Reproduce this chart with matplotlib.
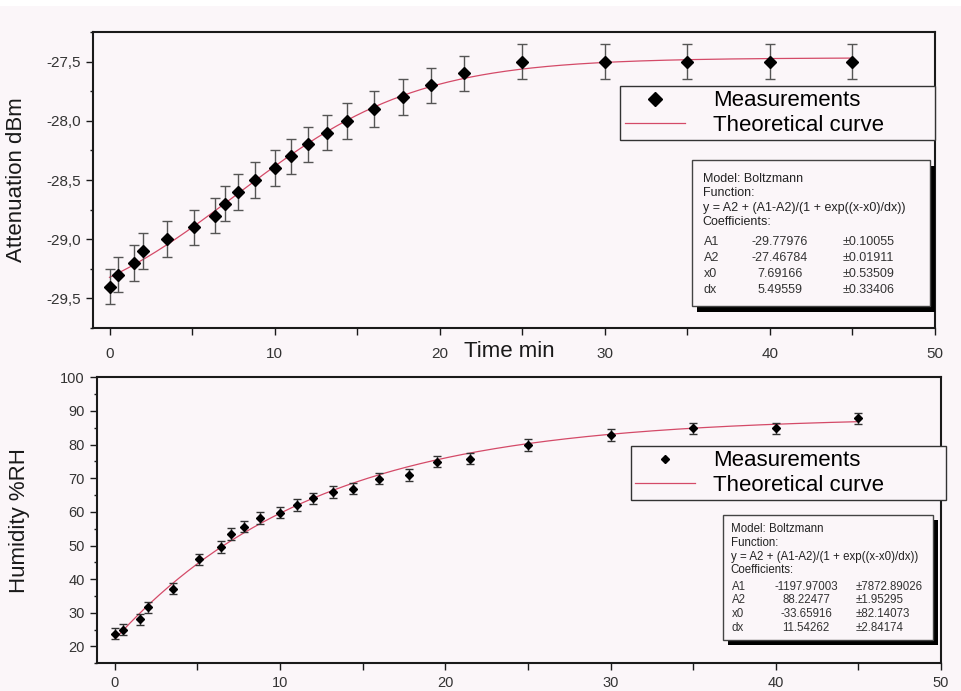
import numpy as np
import matplotlib
matplotlib.use("Agg")
import matplotlib.pyplot as plt
from matplotlib.patches import Rectangle
from matplotlib.lines import Line2D
from matplotlib.ticker import MultipleLocator, FuncFormatter

plt.rcParams['font.family'] = ['Liberation Sans', 'DejaVu Sans']

# measurement times (min), same for both series
time_min = [0, 0.5, 1.5, 2, 3.5, 5.1, 6.4, 7, 7.8, 8.8, 10, 11, 12, 13.2,
            14.4, 16, 17.8, 19.5, 21.5, 25, 30, 35, 40, 45]

# attenuation (dBm)
attenuation = [-29.4, -29.3, -29.2, -29.1, -29.0, -28.9, -28.8, -28.7, -28.6,
               -28.5, -28.4, -28.3, -28.2, -28.1, -28.0, -27.9, -27.8, -27.7,
               -27.6, -27.5, -27.5, -27.5, -27.5, -27.5]
att_err = 0.15

# humidity (%RH)
humidity = [23.8, 25.0, 28.1, 31.6, 37.2, 45.9, 49.5, 53.4, 55.6, 58.2, 59.8,
            62.0, 64.0, 65.9, 66.9, 69.9, 70.9, 74.9, 75.8, 79.9, 82.8, 84.8,
            84.8, 87.8]
hum_err = 1.7

# Boltzmann fit coefficients as printed in the boxes
att_coef = {'A1': -29.77976, 'A2': -27.46784, 'x0': 7.69166, 'dx': 5.49559}
att_coef_err = {'A1': 0.10055, 'A2': 0.01911, 'x0': 0.53509, 'dx': 0.33406}
hum_coef = {'A1': -1197.97003, 'A2': 88.22477, 'x0': -33.65916, 'dx': 11.54262}
hum_coef_err = {'A1': 7872.89026, 'A2': 1.95295, 'x0': 82.14073, 'dx': 2.84174}

W, H = 962, 691
bg = '#fbf6f9'
curve_color = '#d44a68'
ink = '#1a1a1a'


def boltzmann(x, c):
    return c['A2'] + (c['A1'] - c['A2']) / (1 + np.exp((x - c['x0']) / c['dx']))


def px_rect(x0, y0, x1, y1):
    # image pixels (top-left origin) -> figure fraction rect
    return [x0 / W, 1 - y1 / H, (x1 - x0) / W, (y1 - y0) / H]


def style_axes(ax, pad_x):
    for s in ax.spines.values():
        s.set_linewidth(1.5)
        s.set_color(ink)
    ax.tick_params(which='both', direction='out', colors=ink, labelcolor='#333333')
    ax.tick_params(which='major', length=5, width=1)
    ax.tick_params(axis='y', which='minor', length=2.5, width=1)
    ax.tick_params(axis='x', which='minor', length=5, width=1)
    ax.tick_params(axis='x', pad=pad_x)
    ax.tick_params(axis='y', pad=3.5)
    ax.set_facecolor(bg)


def fit_box(fig, box, shadow, left, rows, tab_rows, cols, coef, coef_err, fs):
    sx, sy = shadow
    sh = px_rect(box[0] + sx, box[1] + sy, box[2] + sx, box[3] + sy)
    fig.add_artist(Rectangle((sh[0], sh[1]), sh[2], sh[3], transform=fig.transFigure,
                             facecolor='black', edgecolor='none', zorder=5))
    r = px_rect(*box)
    fig.add_artist(Rectangle((r[0], r[1]), r[2], r[3], transform=fig.transFigure,
                             facecolor=bg, edgecolor='#444444', lw=1, zorder=6))
    header = ['Model: Boltzmann', 'Function:',
              'y = A2 + (A1-A2)/(1 + exp((x-x0)/dx))', 'Coefficients:']
    for txt, y in zip(header, rows):
        fig.text(left / W, 1 - y / H, txt, fontsize=fs, color='#222222',
                 va='center', ha='left', zorder=7)
    for name, y in zip(['A1', 'A2', 'x0', 'dx'], tab_rows):
        fig.text(cols[0] / W, 1 - y / H, name, fontsize=fs, color='#333333',
                 va='center', ha='left', zorder=7)
        fig.text(cols[1] / W, 1 - y / H, f"{coef[name]:.5f}", fontsize=fs,
                 color='#333333', va='center', ha='center', zorder=7)
        fig.text(cols[2] / W, 1 - y / H, f"\u00b1{coef_err[name]:.5f}", fontsize=fs,
                 color='#333333', va='center', ha='left', zorder=7)


fig = plt.figure(figsize=(W / 100, H / 100), dpi=100, facecolor=bg)

# white strip at the very top (page margin)
fig.add_artist(Rectangle((0, 1 - 6 / H), 1, 6 / H, transform=fig.transFigure,
                         facecolor='white', edgecolor='none'))

xfit = np.linspace(0, 45, 400)

# ---------------- top panel: attenuation ----------------
ax1 = fig.add_axes(px_rect(93, 32, 935, 328))
style_axes(ax1, 8.5)
ax1.plot(xfit, boltzmann(xfit, att_coef), color=curve_color, lw=0.9, zorder=2)
ax1.errorbar(time_min, attenuation, yerr=att_err, fmt='none', ecolor='#555555',
             elinewidth=1, capsize=3.5, capthick=1, zorder=3)
ax1.plot(time_min, attenuation, 'D', color='black', ms=6.3, zorder=4)
ax1.set_xlim(-1, 50)
ax1.set_ylim(-29.75, -27.25)
ax1.xaxis.set_major_locator(MultipleLocator(10))
ax1.xaxis.set_minor_locator(MultipleLocator(5))
ax1.yaxis.set_major_locator(MultipleLocator(0.5))
ax1.yaxis.set_minor_locator(MultipleLocator(0.25))
ax1.yaxis.set_major_formatter(FuncFormatter(lambda v, p: f"{v:.1f}".replace('.', ',')))
ax1.tick_params(axis='both', labelsize=11)
ax1.set_ylabel('Attenuation dBm', fontsize=16, color=ink)
ax1.yaxis.set_label_coords(-0.078, 0.5)
ax1.set_xlabel('Time min', fontsize=16, color=ink)
ax1.xaxis.set_label_coords(0.495, -0.045)

h1 = [Line2D([], [], ls='none', marker='D', color='black', ms=7),
      Line2D([], [], color=curve_color, lw=0.9)]
leg1 = ax1.legend(h1, ['Measurements', 'Theoretical curve'], loc='upper left',
                  bbox_to_anchor=(0.626, 0.601, 0.374, 0.2166), mode='expand',
                  borderaxespad=0, fontsize=16, handlelength=2.7, handletextpad=1.3,
                  labelspacing=0.15, borderpad=0.2, fancybox=False, framealpha=1,
                  edgecolor='#333333', facecolor=bg)
leg1.get_frame().set_linewidth(1)

fit_box(fig, (691.7, 160, 930, 306), (5, 6), 702.7,
        [178.7, 192.7, 207.7, 221.7], [242.3, 258.3, 274.3, 290],
        (704, 780, 843), att_coef, att_coef_err, 9)

# ---------------- bottom panel: humidity ----------------
ax2 = fig.add_axes(px_rect(96.7, 377.3, 941, 663.3))
style_axes(ax2, 4.5)
ax2.plot(xfit, boltzmann(xfit, hum_coef), color=curve_color, lw=0.9, zorder=2)
ax2.errorbar(time_min, humidity, yerr=hum_err, fmt='none', ecolor='#333333',
             elinewidth=1, capsize=3, capthick=1, zorder=3)
ax2.plot(time_min, humidity, 'D', color='black', ms=3.8, zorder=4)
ax2.set_xlim(-1.1, 50)
ax2.set_ylim(15, 100)
ax2.xaxis.set_major_locator(MultipleLocator(10))
ax2.xaxis.set_minor_locator(MultipleLocator(5))
ax2.yaxis.set_major_locator(MultipleLocator(10))
ax2.yaxis.set_minor_locator(MultipleLocator(5))
ax2.tick_params(axis='both', labelsize=10.5)
ax2.set_ylabel('Humidity %RH', fontsize=16, color=ink)
ax2.yaxis.set_label_coords(-0.079, 0.5)

h2 = [Line2D([], [], ls='none', marker='D', color='black', ms=4),
      Line2D([], [], color=curve_color, lw=0.9)]
leg2 = ax2.legend(h2, ['Measurements', 'Theoretical curve'], loc='upper left',
                  bbox_to_anchor=(0.6325, 0.536, 0.373, 0.224), mode='expand',
                  borderaxespad=0, fontsize=16, handlelength=2.7, handletextpad=0.8,
                  labelspacing=0.15, borderpad=0.2, fancybox=False, framealpha=1,
                  edgecolor='#333333', facecolor=bg)
leg2.get_frame().set_linewidth(1)

fit_box(fig, (722.7, 515, 933.3, 640), (5, 5), 730.7,
        [529.3, 542.7, 556.7, 570], [586.7, 600, 614, 627.7],
        (732, 806, 856), hum_coef, hum_coef_err, 8.3)

fig.savefig('out.png', dpi=100, facecolor=bg)
